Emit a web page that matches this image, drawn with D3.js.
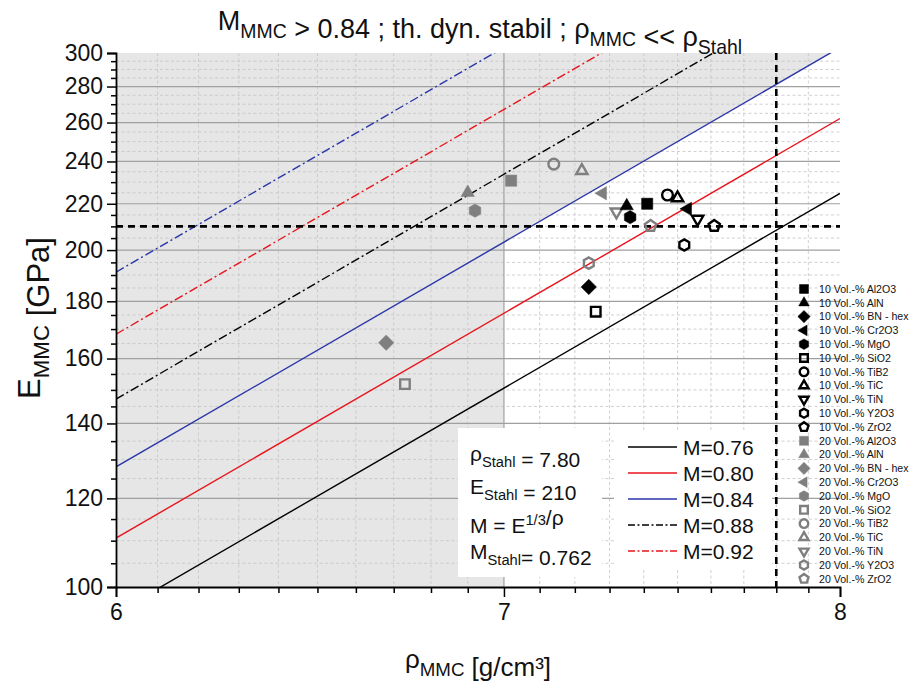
<!DOCTYPE html>
<html><head><meta charset="utf-8">
<script src="https://cdn.jsdelivr.net/npm/d3@7"></script>
<style>body{margin:0;background:#fff} text{font-family:"Liberation Sans",Arial,sans-serif;fill:#111}</style>
</head><body><svg id="c" width="917" height="686"></svg>
<script>
// ---- data ----
const materials = ["Al2O3","AlN","BN - hex","Cr2O3","MgO","SiO2","TiB2","TiC","TiN","Y2O3","ZrO2"];
const shapes = ["square","triangle","diamond","triangleLeft","hexagon","square","circle","triangle","triangleDown","hexagon","pentagon"];
const filledFlags = [true,true,true,true,true,false,false,false,false,false,false];
const rho10 = [7.41,7.35,7.24,7.53,7.36,7.26,7.47,7.50,7.56,7.52,7.61];
const E10   = [220,219,185.4,217.7,214,176.2,224,222.6,213.2,202.1,210.2];
const rho20 = [7.02,6.90,6.68,7.28,6.92,6.73,7.14,7.22,7.32,7.24,7.42];
const E20   = [230.7,225.1,165.3,224.8,216.9,151.8,238.7,235.5,216.4,194.7,210.2];
const Mvalues = [0.76,0.80,0.84,0.88,0.92,0.96];
const Mcolors = ["#000000","#e8141c","#2a36a8","#000000","#e8141c","#2a36a8"];
const Mdashed = [false,false,false,true,true,true];
const Mlegend = ["M=0.76","M=0.80","M=0.84","M=0.88","M=0.92"];
const yMajor = [100,120,140,160,180,200,220,240,260,280,300];
const xMajor = [6,7,8];
const rhoStahl = 7.80, EStahl = 210, Mshade = 0.84, rhoShade = 7;

// ---- setup ----
const L=116,R=840,T=53,B=587;
const x=d3.scaleLog().domain([6,8]).range([L,R]);
const y=d3.scaleLog().domain([100,300]).range([B,T]);
const svg=d3.select("#c");
svg.append("defs").append("clipPath").attr("id","pc").append("rect").attr("x",L).attr("y",T).attr("width",R-L).attr("height",B-T);
const Eat=(M,r)=>Math.pow(M*r,3);
const rhoAt=(M,E)=>Math.cbrt(E)/M;

// shading
const shade=[[6,100],[6,300],[rhoAt(Mshade,300),300],[rhoShade,Eat(Mshade,rhoShade)],[rhoShade,100]];
svg.append("path").attr("d",d3.line().x(d=>x(d[0])).y(d=>y(d[1]))(shade)+"Z").attr("fill","#e6e6e6");

// grid
const gx=[],gy=[];
for(let i=1;i<20;i++){const v=+(6+i*0.1).toFixed(1); if(v!==7) gx.push(v);}
for(let v=105;v<300;v+=5){ if(v%20!==0) gy.push(v);}
const g=svg.append("g");
g.selectAll(".gx").data(gx).join("line").attr("x1",d=>x(d)).attr("x2",d=>x(d)).attr("y1",T).attr("y2",B).attr("stroke","#c4c4c4").attr("stroke-width",0.8).attr("stroke-dasharray","3,2.5");
g.selectAll(".gy").data(gy).join("line").attr("y1",d=>y(d)).attr("y2",d=>y(d)).attr("x1",L).attr("x2",R).attr("stroke","#c4c4c4").attr("stroke-width",0.8).attr("stroke-dasharray","3,2.5");
g.selectAll(".gY").data(yMajor.slice(1,-1)).join("line").attr("y1",d=>y(d)).attr("y2",d=>y(d)).attr("x1",L).attr("x2",R).attr("stroke","#a0a0a0").attr("stroke-width",1.2);
g.selectAll(".gX").data([7]).join("line").attr("x1",d=>x(d)).attr("x2",d=>x(d)).attr("y1",T).attr("y2",B).attr("stroke","#a0a0a0").attr("stroke-width",1.2);

// M lines
const lg=svg.append("g").attr("clip-path","url(#pc)");
Mvalues.forEach((M,i)=>{
  const pts=[[6,Eat(M,6)],[8,Eat(M,8)]];
  lg.append("path").attr("d",d3.line().x(d=>x(d[0])).y(d=>y(d[1]))(pts))
    .attr("stroke",Mcolors[i]).attr("stroke-width",1.4).attr("fill","none")
    .attr("stroke-dasharray",Mdashed[i]?"9,3,2,3":null);
});
// reference lines
lg.append("line").attr("x1",L).attr("x2",R).attr("y1",y(EStahl)).attr("y2",y(EStahl)).attr("stroke","#000").attr("stroke-width",2.6).attr("stroke-dasharray","7,5");
lg.append("line").attr("x1",x(rhoStahl)).attr("x2",x(rhoStahl)).attr("y1",T).attr("y2",B).attr("stroke","#000").attr("stroke-width",2.6).attr("stroke-dasharray","7,5");

// symbols
function poly(n,r,a0){let p=[];for(let k=0;k<n;k++){const a=(a0+k*360/n)*Math.PI/180;p.push([r*Math.cos(a),r*Math.sin(a)]);}return "M"+p.map(q=>q[0].toFixed(2)+","+q[1].toFixed(2)).join("L")+"Z";}
function sym(shape,s){
  switch(shape){
    case "square": return `M${-s*0.8},${-s*0.8}h${s*1.6}v${s*1.6}h${-s*1.6}Z`;
    case "triangle": return poly(3,s*1.1,-90);
    case "triangleDown": return poly(3,s*1.1,90);
    case "triangleLeft": return poly(3,s*1.1,180);
    case "diamond": return poly(4,s*1.1,-90);
    case "hexagon": return poly(6,s*0.95,-90);
    case "pentagon": return poly(5,s*1.0,-90);
    case "circle": return `M${s*0.9},0A${s*0.9},${s*0.9} 0 1,1 ${-s*0.9},0A${s*0.9},${s*0.9} 0 1,1 ${s*0.9},0Z`;
  }
}
function drawMark(sel,shape,filled,color,s){
  sel.append("path").attr("d",filled?sym(shape,s):sym(shape,s*0.85))
    .attr("fill",filled?color:"none").attr("stroke",color).attr("stroke-width",filled?0.5:2.4).attr("stroke-linejoin","miter");
}
const pg=svg.append("g");
const series=[{rho:rho20,E:E20,color:"#7f7f7f"},{rho:rho10,E:E10,color:"#000"}];
series.forEach(sr=>{
  sr.rho.forEach((r,i)=>{
    const gg=pg.append("g").attr("transform",`translate(${x(r)},${y(sr.E[i])})`);
    drawMark(gg,shapes[i],filledFlags[i],sr.color,7);
  });
});

// axes
const ya=svg.append("g").attr("transform",`translate(${L},0)`);
ya.call(d3.axisLeft(y).tickValues(gy).tickSize(5).tickFormat(""));
ya.call(g=>g.selectAll("path").remove());
const ya2=svg.append("g").attr("transform",`translate(${L},0)`);
ya2.call(d3.axisLeft(y).tickValues(yMajor).tickSize(9).tickPadding(4).tickFormat(d3.format("d")));
const xa=svg.append("g").attr("transform",`translate(0,${B})`);
xa.call(d3.axisBottom(x).tickValues(gx).tickSize(6).tickFormat(""));
xa.call(g=>g.selectAll("path").remove());
const xa2=svg.append("g").attr("transform",`translate(0,${B})`);
xa2.call(d3.axisBottom(x).tickValues(xMajor).tickSize(10).tickPadding(7).tickFormat(d3.format("d")));
svg.selectAll(".tick line").attr("stroke","#000").attr("stroke-width",1.5);
svg.selectAll(".domain").attr("stroke","#000").attr("stroke-width",1.8);
svg.selectAll(".tick text").style("font-size","23px").attr("fill","#111").style("font-family","'Liberation Sans',Arial,sans-serif");

// text boxes
svg.append("rect").attr("x",458).attr("y",428).attr("width",144).attr("height",149).attr("fill","#fff");
svg.append("rect").attr("x",614).attr("y",430).attr("width",158).attr("height",138).attr("fill","#fff");
function rich(parent,xx,yy,parts,size,anchor,subScale){
  const ss=subScale||0.7;
  const t=parent.append("text").attr("x",xx).attr("y",yy).style("font-size",size+"px").attr("text-anchor",anchor||"start");
  parts.forEach(p=>{
    if(p.sub){t.append("tspan").attr("dy",size*0.3).style("font-size",(size*ss)+"px").text(p.sub);t.append("tspan").attr("dy",-size*0.3).text("");}
    else if(p.sup){t.append("tspan").attr("dy",-size*0.36).style("font-size",(size*ss)+"px").text(p.sup);t.append("tspan").attr("dy",size*0.36).text("");}
    else t.append("tspan").text(p.t);
  });
  return t;
}
rich(svg,470,461,[{t:"ρ"},{sub:"Stahl"},{t:" = "+rhoStahl.toFixed(2)}],21);
rich(svg,470,494,[{t:"E"},{sub:"Stahl"},{t:" = "+EStahl}],21);
rich(svg,470,533,[{t:"M = E"},{sup:"1/3"},{t:"/ρ"}],21);
rich(svg,470,559,[{t:"M"},{sub:"Stahl"},{t:"= 0.762"}],21);
Mlegend.forEach((lab,i)=>{
  const yy=447+i*26;
  svg.append("line").attr("x1",628).attr("x2",677).attr("y1",yy).attr("y2",yy).attr("stroke",Mcolors[i]).attr("stroke-width",1.4).attr("stroke-dasharray",Mdashed[i]?"7,2.5,2,2.5":null);
  svg.append("text").attr("x",683).attr("y",yy+7.5).style("font-size","21px").text(lab);
});

// right legend
const legItems=[];
[["10","#000"],["20","#7f7f7f"]].forEach(s=>materials.forEach((m,i)=>legItems.push({lab:s[0]+" Vol.-% "+m,shape:shapes[i],filled:filledFlags[i],color:s[1]})));
legItems.forEach((d,i)=>{
  const yy=289+i*13.8;
  const gg=svg.append("g").attr("transform",`translate(804,${yy})`);
  drawMark(gg,d.shape,d.filled,d.color,5.6);
  svg.append("text").attr("x",819).attr("y",yy+3.8).style("font-size","10.6px").text(d.lab);
});

// titles
rich(svg,480,30,[{t:"M"},{sub:"MMC"},{t:" > 0.84 ; th. dyn. stabil ; ρ"},{sub:"MMC"},{t:" << ρ"},{sub:"Stahl"}],27,"middle",0.72);
rich(svg,478,668,[{t:"ρ"},{sub:"MMC"},{t:" [g/cm³]"}],26,"middle",0.72);
rich(svg,0,0,[{t:"E"},{sub:"MMC"},{t:" [GPa]"}],31,"middle",0.72).attr("transform","translate(40,318) rotate(-90)");
</script></body></html>
